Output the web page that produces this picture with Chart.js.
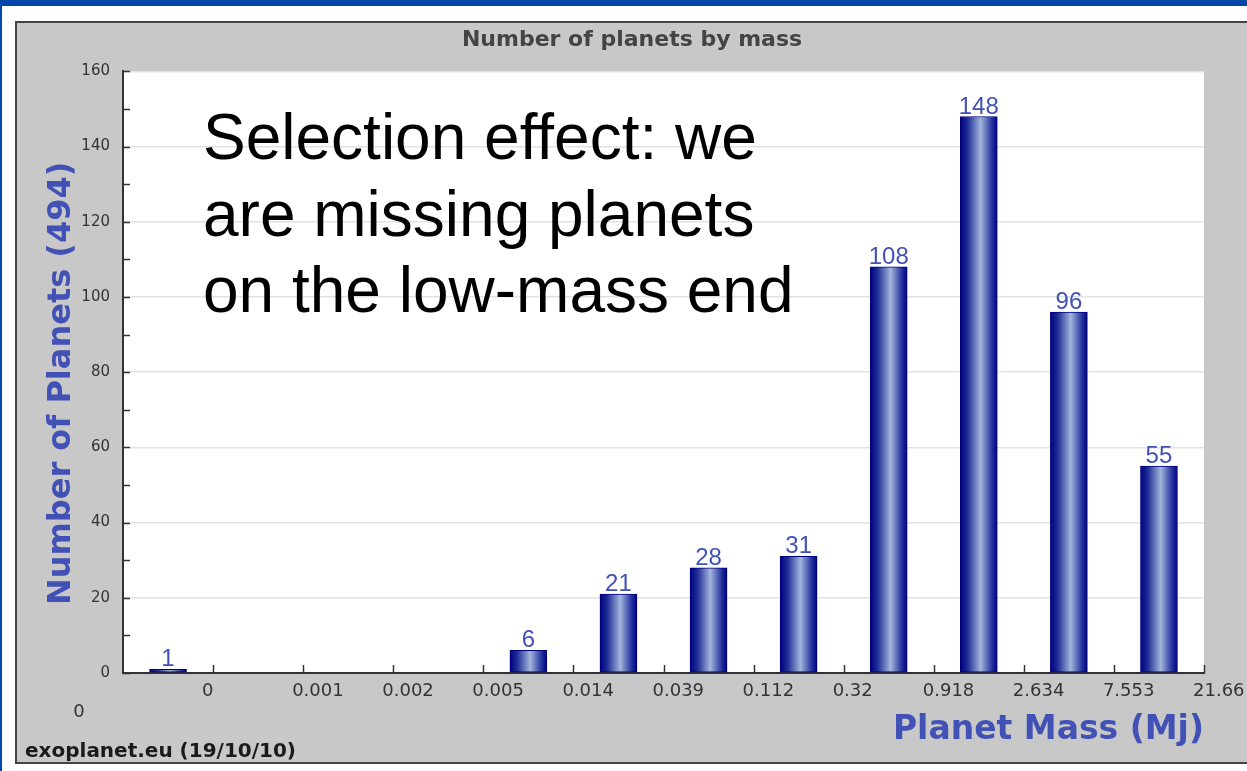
<!DOCTYPE html>
<html>
<head>
<meta charset="utf-8">
<script src="https://cdn.jsdelivr.net/npm/chart.js@4.4.1/dist/chart.umd.min.js"></script>
<style>
  body { margin: 0; width: 1247px; height: 771px; overflow: hidden; background: #fff; position: relative; }
  #bluetop { position: absolute; left: 0; top: 0; width: 1247px; height: 6px; background: #0047ab; }
  #blueleft { position: absolute; left: 0; top: 0; width: 2px; height: 771px; background: #0047ab; }
  #panel { position: absolute; left: 15px; top: 21px; width: 1240px; height: 739px; background: #c8c8c8; border: 2px solid #444; }
  #massChart { position: absolute; left: 0; top: 0; }
</style>
</head>
<body>
<div id="bluetop"></div>
<div id="blueleft"></div>
<div id="panel">
  <canvas id="massChart" width="1230" height="739"></canvas>
</div>
<script>
// bin edges (Mj) shown under the axis, one more than the bins
const edgeLabels = ["0", "0", "0.001", "0.002", "0.005", "0.014", "0.039", "0.112", "0.32", "0.918", "2.634", "7.553", "21.66"];
// planets per mass bin
const binCounts = [1, 0, 0, 0, 6, 21, 28, 31, 108, 148, 96, 55];
const yMax = 160;
const noteLines = ["Selection effect: we", "are missing planets", "on the low-mass end"];

const BLUE_TEXT = "#4151b5";
const NAVY = "#00007f";

const barData = binCounts.map((v, i) => ({ x: i + 0.5, y: v }));

function barGradient(c) {
  const chart = c.chart;
  const xs = chart.scales && chart.scales.x;
  if (c.type !== "data" || !xs || !c.raw) return "#1b2b8f";
  const cx = xs.getPixelForValue(c.raw.x);
  if (!isFinite(cx)) return "#1b2b8f";
  const g = chart.ctx.createLinearGradient(cx - 18.5, 0, cx + 18.5, 0);
  g.addColorStop(0, "#000080");
  g.addColorStop(0.2, "#1e2e96");
  g.addColorStop(0.55, "#a3b5dc");
  g.addColorStop(0.85, "#2535a0");
  g.addColorStop(1, "#000080");
  return g;
}

// white plot area, inner tick marks, value labels, notes
const decorations = {
  id: "decorations",
  beforeDraw(chart) {
    const { ctx, chartArea: a } = chart;
    ctx.save();
    ctx.fillStyle = "#fff";
    ctx.fillRect(a.left, a.top, a.right - a.left, a.bottom - a.top);
    ctx.restore();
  },
  afterDatasetsDraw(chart) {
    const { ctx, chartArea: a, scales } = chart;
    ctx.save();
    ctx.strokeStyle = "#333";
    ctx.lineWidth = 1.5;
    for (let v = 0; v <= yMax; v += 10) {
      const y = Math.round(scales.y.getPixelForValue(v)) + 0.5;
      ctx.beginPath();
      ctx.moveTo(a.left, y);
      ctx.lineTo(a.left + 7, y);
      ctx.stroke();
    }
    for (let i = 1; i < edgeLabels.length; i++) {
      const x = Math.round(scales.x.getPixelForValue(i)) + 0.5;
      ctx.beginPath();
      ctx.moveTo(x, a.bottom);
      ctx.lineTo(x, a.bottom - 8);
      ctx.stroke();
    }

    // counts above the bars
    const meta = chart.getDatasetMeta(0);
    ctx.fillStyle = BLUE_TEXT;
    ctx.font = '24px "Liberation Sans"';
    ctx.textAlign = "center";
    ctx.textBaseline = "alphabetic";
    meta.data.forEach((bar, i) => {
      if (binCounts[i] > 0) ctx.fillText(String(binCounts[i]), bar.x, bar.y - 3);
    });

    // slide annotation
    ctx.fillStyle = "#000";
    ctx.font = '64px "Liberation Sans"';
    ctx.textAlign = "left";
    noteLines.forEach((line, i) => {
      ctx.fillText(line, a.left + 80, a.top + 88 + i * 76.5);
    });
    ctx.restore();
  },
  afterDraw(chart) {
    const { ctx, chartArea: a } = chart;
    ctx.save();
    // first edge label sits apart, below the y axis
    ctx.fillStyle = "#333";
    ctx.font = '18px "DejaVu Sans"';
    ctx.textAlign = "center";
    ctx.textBaseline = "middle";
    ctx.fillText(edgeLabels[0], a.left - 44, a.bottom + 39);
    // source line
    ctx.fillStyle = "#1a1a1a";
    ctx.font = 'bold 20px "DejaVu Sans"';
    ctx.textAlign = "left";
    ctx.textBaseline = "alphabetic";
    ctx.fillText("exoplanet.eu (19/10/10)", 8, chart.height - 5);
    ctx.restore();
  }
};

new Chart(document.getElementById("massChart"), {
  type: "bar",
  data: {
    datasets: [{
      data: barData,
      barThickness: 37,
      borderWidth: 1,
      borderColor: NAVY,
      borderSkipped: false,
      backgroundColor: barGradient
    }]
  },
  options: {
    responsive: false,
    animation: false,
    devicePixelRatio: 1,
    layout: { padding: 0 },
    plugins: {
      legend: { display: false },
      tooltip: { enabled: false },
      title: {
        display: true,
        text: "Number of planets by mass",
        color: "#444",
        font: { family: '"DejaVu Sans"', size: 22, weight: "bold" },
        padding: { top: 4, bottom: 18 }
      }
    },
    scales: {
      x: {
        type: "linear",
        min: 0,
        max: edgeLabels.length - 1,
        offset: false,
        grid: { display: false, drawTicks: false },
        border: { color: "#333", width: 2 },
        ticks: {
          stepSize: 1,
          autoSkip: false,
          maxRotation: 0,
          align: "start",
          labelOffset: -11,
          padding: 8,
          color: "#333",
          font: { family: '"DejaVu Sans"', size: 18 },
          callback: (v) => (v === 0 ? "" : edgeLabels[v])
        },
        title: {
          display: true,
          text: "Planet Mass (Mj)",
          align: "end",
          color: BLUE_TEXT,
          font: { family: '"DejaVu Sans"', size: 33, weight: "bold" },
          padding: { top: 0, bottom: 12 }
        },
        afterFit(scale) {
          scale.height = 89;
          scale.paddingLeft = 0;
          scale.paddingRight = 43;
        }
      },
      y: {
        min: 0,
        max: yMax,
        grid: {
          drawTicks: false,
          color: (c) => (c.tick && c.tick.value % 20 === 0 && c.tick.value > 0 ? "#e2e2e2" : "rgba(0,0,0,0)"),
          lineWidth: 1.5
        },
        border: { color: "#333", width: 2 },
        ticks: {
          stepSize: 10,
          padding: 13,
          color: "#333",
          font: { family: '"DejaVu Sans"', size: 15 },
          callback: (v) => (v % 20 === 0 ? String(v) : "")
        },
        title: {
          display: true,
          // trailing spaces push the rotated title a little lower, as in the original
          text: "Number of Planets (494)\u00a0\u00a0",
          color: BLUE_TEXT,
          font: { family: '"DejaVu Sans"', size: 32, weight: "bold" },
          padding: { top: 25, bottom: 0 }
        },
        afterFit(scale) {
          scale.width = 106;
          scale.paddingTop = 0;
          scale.paddingBottom = 0;
        }
      }
    }
  },
  plugins: [decorations]
});
</script>
</body>
</html>
